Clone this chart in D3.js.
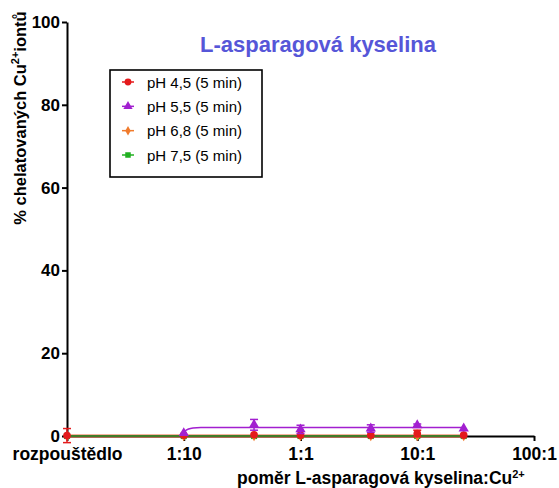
<!DOCTYPE html>
<html>
<head>
<meta charset="utf-8">
<script src="https://cdn.jsdelivr.net/npm/d3@7"></script>
<style>
  html, body { margin: 0; padding: 0; background: #fff; }
  svg { display: block; font-family: "Liberation Sans", Arial, sans-serif; }
</style>
</head>
<body>
<svg id="chart" width="559" height="488"></svg>
<script>
// Ratio L-asparagic acid : Cu2+ (the solvent control sits at the left end of the log axis)
const solventPos = 0.01;
const ratios = [solventPos, 0.1, 0.4, 1, 4, 10, 25];

// Tick positions and labels on the log x axis
const xTickValues = [0.01, 0.1, 1, 10, 100];
const xTickLabels = ["rozpouštědlo", "1:10", "1:1", "10:1", "100:1"];
const yTickValues = [0, 20, 40, 60, 80, 100];

// % chelated Cu2+ ions (mean) and error (SD) per series
const seriesNames = ["pH 4,5 (5 min)", "pH 5,5 (5 min)", "pH 6,8 (5 min)", "pH 7,5 (5 min)"];
const ph45 = [0.1, 0.2, 0.3, 0.2, 0.2, 0.6, 0.2];
const ph45Err = [1.7, 0, 0, 0, 0, 0.8, 0];
const ph55 = [0, 0.7, 2.7, 1.6, 1.8, 2.6, 1.8];
const ph55Err = [0, 0, 1.3, 1.0, 0.9, 0.3, 0];
const ph68 = [0, 0, 0, 0, 0, 0, 0];
const ph68Err = [0, 0, 0, 0, 0, 0, 0];
const ph75 = [0, 0, 0, 0, 0, 0, 0];
const ph75Err = [0, 0, 0, 0, 0, 0, 0];

// Fitted curve for pH 5,5
const fit55X = [0.1, 0.104, 0.11, 0.12, 0.14, 25];
const fit55Y = [0.6, 1.3, 1.7, 1.95, 2.05, 2.05];

const colors = ["#e41a1c", "#a21fd0", "#f07b2c", "#22b022"];
const symbols = [d3.symbolCircle, d3.symbolTriangle, d3.symbolDiamond, d3.symbolSquare];
const symbolSizes = [46, 46, 32, 38];

const series = [
  { name: seriesNames[0], y: ph45, e: ph45Err },
  { name: seriesNames[1], y: ph55, e: ph55Err },
  { name: seriesNames[2], y: ph68, e: ph68Err },
  { name: seriesNames[3], y: ph75, e: ph75Err }
];

const FONT = "'Liberation Sans', Arial, sans-serif";
const svg = d3.select("#chart");
const x = d3.scaleLog().domain([0.01, 100]).range([67, 534]);
const y = d3.scaleLinear().domain([0, 100]).range([436, 22]);

// Y axis
const yAxis = svg.append("g").attr("transform", "translate(67,0)")
  .call(d3.axisLeft(y).tickValues(yTickValues).tickSize(5).tickSizeOuter(0).tickPadding(2));
yAxis.select(".domain").attr("stroke", "#000").attr("stroke-width", 2);
yAxis.selectAll(".tick line").attr("stroke", "#000").attr("stroke-width", 2);
yAxis.selectAll(".tick text").attr("fill", "#000").attr("font-size", 17).attr("font-weight", "bold")
  .attr("font-family", FONT);

// X axis
const xAxis = svg.append("g").attr("transform", "translate(0,436)")
  .call(d3.axisBottom(x).tickValues(xTickValues).tickFormat((d, i) => xTickLabels[i])
    .tickSize(5).tickSizeOuter(0).tickPadding(7));
xAxis.select(".domain").attr("stroke", "#000").attr("stroke-width", 2);
xAxis.selectAll(".tick line").attr("stroke", "#000").attr("stroke-width", 2);
xAxis.selectAll(".tick text").attr("fill", "#000").attr("font-size", 17.5).attr("font-weight", "bold")
  .attr("font-family", FONT);

// Title
svg.append("text").attr("x", 318).attr("y", 52).attr("text-anchor", "middle")
  .attr("font-size", 22).attr("font-weight", "bold").attr("fill", "#5656d8")
  .text("L-asparagová kyselina");

// Y axis title
const yt = svg.append("text").attr("transform", "translate(26,118) rotate(-90)")
  .attr("text-anchor", "middle").attr("font-size", 16.5).attr("font-weight", "bold").attr("fill", "#000");
yt.append("tspan").text("% chelatovaných Cu");
yt.append("tspan").attr("dy", -7).attr("font-size", 11).text("2+");
yt.append("tspan").attr("dy", 7).text("iontů");

// X axis title
const xt = svg.append("text").attr("x", 237).attr("y", 484)
  .attr("font-size", 17.5).attr("font-weight", "bold").attr("fill", "#000");
xt.append("tspan").text("poměr L-asparagová kyselina:Cu");
xt.append("tspan").attr("dy", -6).attr("font-size", 11).text("2+");

// Data lines
const line = d3.line().x(d => x(d[0])).y(d => y(d[1]));
const fitLine = d3.line().x(d => x(d[0])).y(d => y(d[1])).curve(d3.curveMonotoneX);
const plot = svg.append("g");

// Baseline series lines (pH 4,5 / 6,8 / 7,5 lie flat along zero)
[0, 2, 3].forEach(i => {
  const flat = ratios.map(r => [r, 0]);
  plot.append("path").attr("d", line(flat)).attr("fill", "none")
    .attr("stroke", colors[i]).attr("stroke-width", i === 3 ? 1.6 : 2.4);
});
plot.append("path").attr("d", line(ratios.map(r => [r, 0]))).attr("fill", "none")
  .attr("stroke", "#3d6f2a").attr("stroke-width", 1.6);

plot.append("path").attr("d", fitLine(fit55X.map((v, i) => [v, fit55Y[i]])))
  .attr("fill", "none").attr("stroke", colors[1]).attr("stroke-width", 1.5);

// Error bars and markers
const drawOrder = [3, 2, 0, 1];
drawOrder.forEach(i => {
  const s = series[i];
  const pts = ratios.map((r, j) => ({ r, v: s.y[j], e: s.e[j] }));
  if (i === 1) pts.shift();
  const g = plot.append("g");
  pts.filter(p => p.e > 0).forEach(p => {
    const cx = x(p.r);
    g.append("line").attr("x1", cx).attr("x2", cx).attr("y1", y(p.v - p.e)).attr("y2", y(p.v + p.e))
      .attr("stroke", colors[i]).attr("stroke-width", 1.5);
    [p.v + p.e, p.v - p.e].forEach(val => {
      g.append("line").attr("x1", cx - 4).attr("x2", cx + 4).attr("y1", y(val)).attr("y2", y(val))
        .attr("stroke", colors[i]).attr("stroke-width", 1.5);
    });
  });
  g.selectAll("path.m").data(pts).join("path")
    .attr("transform", p => `translate(${x(p.r)},${y(p.v)})`)
    .attr("d", d3.symbol().type(symbols[i]).size(symbolSizes[i]))
    .attr("fill", colors[i]);
});

// Legend
const lg = svg.append("g");
lg.append("rect").attr("x", 110).attr("y", 70).attr("width", 152).attr("height", 107)
  .attr("fill", "#fff").attr("stroke", "#000").attr("stroke-width", 1.6);
const legendY = d3.scalePoint().domain(seriesNames).range([82, 155]);
seriesNames.forEach((name, i) => {
  const ly = legendY(name);
  lg.append("line").attr("x1", 122).attr("x2", 134).attr("y1", ly).attr("y2", ly)
    .attr("stroke", colors[i]).attr("stroke-width", 1.5);
  lg.append("path").attr("transform", `translate(128,${ly})`)
    .attr("d", d3.symbol().type(symbols[i]).size(symbolSizes[i] * 0.8)).attr("fill", colors[i]);
  lg.append("text").attr("x", 147).attr("y", ly + 5.5).attr("font-size", 15).attr("fill", "#000")
    .text(name);
});
</script>
</body>
</html>
